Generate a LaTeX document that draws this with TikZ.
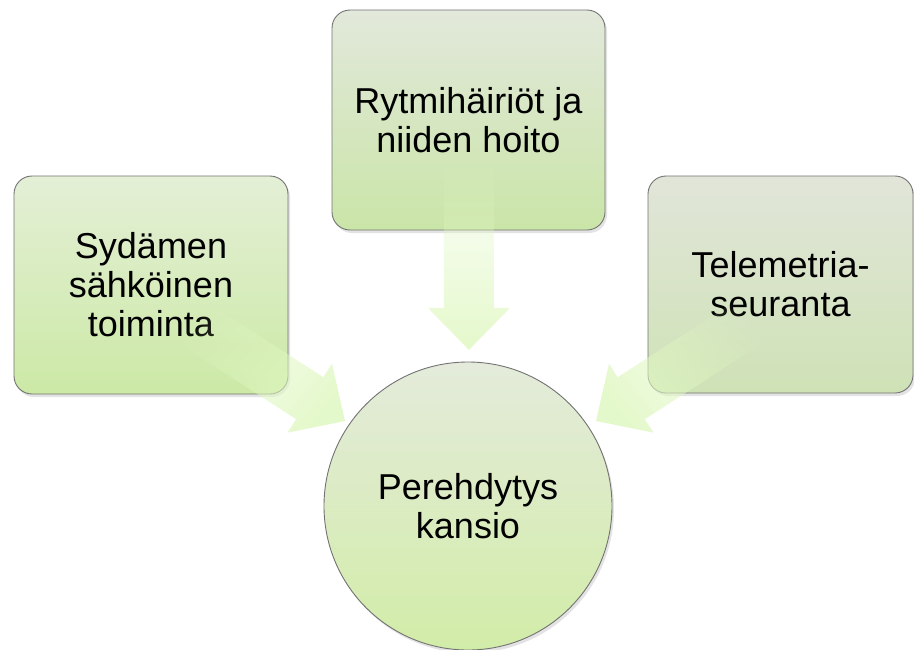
\documentclass[tikz,border=0pt]{standalone}
\usepackage{fontspec}
\setmainfont{Liberation Sans}
\usetikzlibrary{calc,shadows,fadings}
\definecolor{lbtop}{RGB}{228,239,214}
\definecolor{lbbot}{RGB}{204,233,166}
\definecolor{tbtop}{RGB}{226,232,219}
\definecolor{tbbot}{RGB}{202,229,168}
\definecolor{rbtop}{RGB}{225,229,217}
\definecolor{rbbot}{RGB}{207,226,182}
\definecolor{cirtop}{RGB}{228,235,219}
\definecolor{cirbot}{RGB}{210,236,168}
\definecolor{arrowgreen}{RGB}{224,248,194}
\tikzfading[name=arrowfade, left color=transparent!100, right color=transparent!15]
\tikzset{
  box/.style={rectangle, rounded corners=18pt, draw=black!55, line width=0.9pt,
    align=center, font=\fontsize{36}{39}\selectfont, inner sep=0pt,
    drop shadow={opacity=0.22, shadow xshift=2pt, shadow yshift=-3pt}},
  hub/.style={circle, draw=black!55, line width=0.9pt, align=center,
    font=\fontsize{36}{39}\selectfont, inner sep=0pt,
    top color=cirtop, bottom color=cirbot,
    drop shadow={opacity=0.22, shadow xshift=2pt, shadow yshift=-3pt}},
  blockarrow/.style={fill=arrowgreen, draw=none, path fading=arrowfade}
}
\begin{document}
\begin{tikzpicture}[x=1pt,y=-1pt]
\useasboundingbox (0,0) rectangle (914,649);
\fill[white] (0,0) rectangle (914,649);

% boxes
\node[box, minimum width=274pt, minimum height=218pt, top color=lbtop, bottom color=lbbot]
  (left) at (151,285) {Sydämen\\sähköinen\\toiminta};
\node[box, minimum width=273pt, minimum height=220pt, top color=tbtop, bottom color=tbbot]
  (top) at (468.5,120) {Rytmihäiriöt ja\\niiden hoito};
\node[box, minimum width=265pt, minimum height=217pt, top color=rbtop, bottom color=rbbot]
  (right) at (780.5,284.5) {Telemetria-\\seuranta};

% arrow coordinates
\coordinate (ts) at (469,155);
\coordinate (tt) at (469,350);
\coordinate (ls) at (181,315);
\coordinate (lt) at (345,421);
\coordinate (rs) at (760,315);
\coordinate (rt) at (596,421);

\foreach \s/\t/\a in {ts/tt/-90, ls/lt/-33, rs/rt/-147}{
  \coordinate (hb) at ($(\t)!42pt!(\s)$);
  \path[blockarrow, fading angle=\a]
    ($(\s)!25pt!90:(\t)$) -- ($(hb)!25pt!90:(\t)$) -- ($(hb)!41pt!90:(\t)$)
    -- (\t) --
    ($(hb)!41pt!-90:(\t)$) -- ($(hb)!25pt!-90:(\t)$) -- ($(\s)!25pt!-90:(\t)$) -- cycle;
}

% hub
\node[hub, minimum size=288pt] (hubc) at (468,506) {Perehdytys\\kansio};
\end{tikzpicture}
\end{document}
